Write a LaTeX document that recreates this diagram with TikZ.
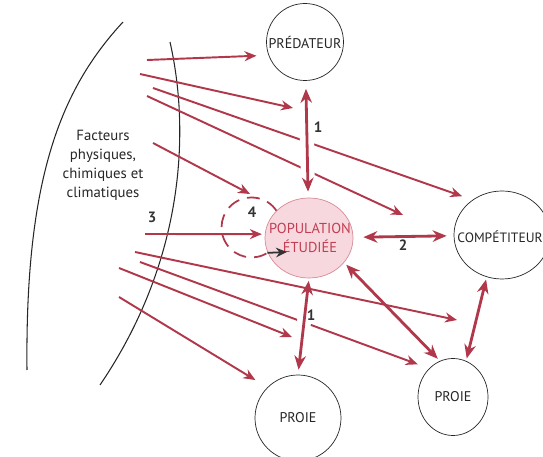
\documentclass[tikz,border=0pt]{standalone}
\usepackage{fontspec}
\setmainfont{PT Sans}
\usetikzlibrary{arrows.meta,shapes.geometric}
\definecolor{flec}{RGB}{176,56,74}
\definecolor{popfond}{RGB}{247,216,222}
\definecolor{popbord}{RGB}{216,138,152}
\definecolor{poptexte}{RGB}{194,62,82}
\tikzset{
  etre/.style={draw=black!85, inner sep=0pt, font=\fontsize{8}{9}\selectfont, text=black!85},
  texte/.style={inner sep=0pt, font=\fontsize{7.7}{9}\selectfont, text=black!85},
  fleche/.style={flec, line width=1.1pt, -{Stealth[length=2.4mm,width=2mm]}},
  inter/.style={flec, line width=1.6pt, {Stealth[length=2.8mm,width=2.3mm]}-{Stealth[length=2.8mm,width=2.3mm]}},
  halo/.style={white, line width=2.8mm, shorten <=3mm, shorten >=3mm},
  num/.style={font=\bfseries\fontsize{8.5}{9}\selectfont, text=black!80}
}
\begin{document}
\begin{tikzpicture}[x=0.2mm,y=-0.2mm]
        \useasboundingbox (0,0) rectangle (543,457);
        \draw[black!85, line width=0.6pt] (123,22) .. controls (60,90) and (25,180) .. (27,370);
        \draw[black!85, line width=0.6pt] (170,42) .. controls (190,130) and (185,260) .. (100,385);
        \node[align=center, font=\fontsize{8.4}{10.8}\selectfont, text=black!85] (facteurs) at (103,165)
            {Facteurs\\physiques,\\chimiques et\\climatiques};
        \node[etre, circle, minimum size=1.54cm] (pred) at (305,42) {PRÉDATEUR};
        \node[etre, ellipse, minimum width=1.76cm, minimum height=1.6cm, fill=popfond, draw=popbord] (pop) at (309,238) {};
        \node[align=center, font=\fontsize{8.2}{11}\selectfont, text=poptexte] (poptxt) at (310,238) {POPULATION\\ÉTUDIÉE};
        \node[etre, ellipse, minimum width=1.92cm, minimum height=1.76cm] (comp) at (502,235) {};
        \node[texte] (comptxt) at (500,237) {COMPÉTITEUR};
        \node[etre, circle, minimum size=1.72cm] (proieA) at (298,418) {PROIE};
        \node[etre, ellipse, minimum width=1.4cm, minimum height=1.54cm] (proieB) at (453,397) {PROIE};
        \coordinate (f1) at (147,60);
        \coordinate (f2) at (140,74);
        \coordinate (f3) at (153,88);
        \coordinate (f4) at (147,96);
        \coordinate (f5) at (153,143);
        \coordinate (f6) at (145,234);
        \coordinate (f7) at (135,252);
        \coordinate (f8) at (140,262);
        \coordinate (f9) at (119,268);
        \coordinate (f10) at (119,297);
        \coordinate (c2) at (293,108);
        \coordinate (c4) at (403,215);
        \coordinate (c5) at (250,194);
        \coordinate (c7) at (457,320);
        \coordinate (c9) at (292,337);
        \coordinate (retour) at (287,252);
        \draw[fleche, shorten >=2.2mm] (f3) -- (comp.130);
        \draw[fleche] (f4) -- (c4);
        \draw[fleche, shorten >=2.4mm] (f8) -- (proieB.130);
        \draw[halo] (pred) -- (pop);
        \draw[halo] (pop.south) -- (proieA.north);
        \draw[inter, shorten <=1.6mm, shorten >=1.2mm] (pred) -- (pop);
        \draw[inter, shorten <=0.5mm, shorten >=1mm] (pop.south) -- (proieA.north);
        \draw[fleche, shorten >=2.4mm] (f1) -- (pred.200);
        \draw[fleche] (f2) -- (c2);
        \draw[fleche] (f5) -- (c5);
        \draw[fleche, shorten >=0.6mm] (f6) -- (pop.175);
        \draw[fleche] (f7) -- (c7);
        \draw[fleche] (f9) -- (c9);
        \draw[fleche, shorten >=2.8mm] (f10) -- (proieA.135);
        \draw[inter, shorten <=2mm, shorten >=1.4mm] (pop) -- (comp);
        \draw[inter, shorten <=0.6mm, shorten >=0.6mm] (pop.-35) -- (proieB.110);
        \draw[inter, shorten <=0.5mm, shorten >=0.5mm] (comp.-110) -- (proieB.70);
        \draw[flec, line width=1pt, dash pattern=on 2.6mm off 1.6mm] (pop.140) arc[start angle=-34, end angle=-302, radius=30] coordinate (boucle);
        \draw[black!80, line width=1pt, -{Stealth[length=2.2mm,width=1.9mm]}] (boucle) -- (retour);
        \node[num] (n1) at (318,127) {1};
        \node[num] (n1b) at (311,315) {1};
        \node[num] (n2) at (403,245) {2};
        \node[num] (n3) at (152,217) {3};
        \node[num] (n4) at (252,212) {4};
\end{tikzpicture}
\end{document}
